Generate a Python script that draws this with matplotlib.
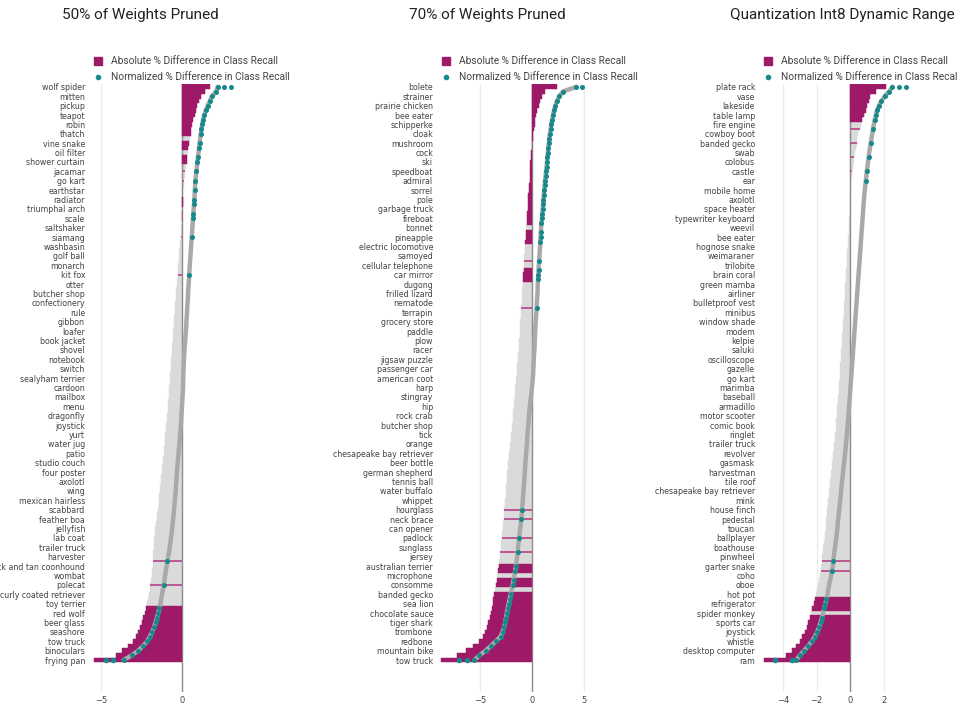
import numpy as np
import matplotlib.pyplot as plt
from matplotlib.lines import Line2D

# colours
MAGENTA = "#9e1a68"
PINK = "#bd5a93"
TEAL = "#15898b"
BAR_GREY = "#dadada"
DOT_GREY = "#a9a9a9"
TEXT = "#444444"

# ---------------- 50% of weights pruned ----------------
labels_50 = [
    "wolf spider", "mitten", "pickup", "teapot", "robin", "thatch", "vine snake",
    "oil filter", "shower curtain", "jacamar", "go kart", "earthstar", "radiator",
    "triumphal arch", "scale", "saltshaker", "siamang", "washbasin", "golf ball",
    "monarch", "kit fox", "otter", "butcher shop", "confectionery", "rule", "gibbon",
    "loafer", "book jacket", "shovel", "notebook", "switch", "sealyham terrier",
    "cardoon", "mailbox", "menu", "dragonfly", "joystick", "yurt", "water jug",
    "patio", "studio couch", "four poster", "axolotl", "wing", "mexican hairless",
    "scabbard", "feather boa", "jellyfish", "lab coat", "trailer truck", "harvester",
    "black and tan coonhound", "wombat", "polecat", "curly coated retriever",
    "toy terrier", "red wolf", "beer glass", "seashore", "tow truck", "binoculars",
    "frying pan",
]
abs_50 = [
    1.75, 1.4, 1.2, 1.05, 0.92, 0.85, 0.78, 0.7, 0.64, 0.58,
    0.53, 0.49, 0.44, 0.4, 0.36, 0.32, 0.28, 0.24, 0.2, 0.17,
    0.13, 0.11, 0.09, 0.07, 0.05, 0.04, 0.02, 0.0, -0.01, -0.03,
    -0.05, -0.07, -0.09, -0.11, -0.14, -0.16, -0.18, -0.2, -0.22, -0.24,
    -0.27, -0.29, -0.31, -0.34, -0.37, -0.39, -0.41, -0.44, -0.46, -0.48,
    -0.5, -0.52, -0.54, -0.56, -0.58, -0.6, -0.62, -0.64, -0.66, -0.68,
    -0.7, -0.72, -0.74, -0.76, -0.78, -0.8, -0.82, -0.84, -0.86, -0.89,
    -0.91, -0.94, -0.96, -0.99, -1.02, -1.05, -1.08, -1.1, -1.13, -1.16,
    -1.19, -1.22, -1.25, -1.28, -1.31, -1.34, -1.36, -1.39, -1.42, -1.45,
    -1.49, -1.52, -1.56, -1.6, -1.64, -1.68, -1.71, -1.73, -1.75, -1.77,
    -1.78, -1.79, -1.81, -1.84, -1.88, -1.92, -1.96, -2.0, -2.05, -2.1,
    -2.16, -2.22, -2.3, -2.38, -2.47, -2.58, -2.7, -2.85, -3.05, -3.35,
    -3.7, -4.1, -5.45,
]
norm_50 = [
    2.2, 2.1, 1.85, 1.72, 1.58, 1.47, 1.38, 1.3, 1.25, 1.2,
    1.15, 1.12, 1.08, 1.05, 1.02, 0.98, 0.95, 0.92, 0.89, 0.86,
    0.83, 0.81, 0.79, 0.78, 0.76, 0.74, 0.72, 0.7, 0.68, 0.66,
    0.64, 0.62, 0.6, 0.58, 0.56, 0.54, 0.52, 0.5, 0.48, 0.46,
    0.44, 0.43, 0.41, 0.39, 0.37, 0.36, 0.34, 0.32, 0.31, 0.29,
    0.27, 0.26, 0.24, 0.22, 0.2, 0.17, 0.15, 0.14, 0.12, 0.11,
    0.1, 0.08, 0.08, 0.07, 0.06, 0.05, 0.03, 0.02, 0.0, -0.02,
    -0.04, -0.05, -0.07, -0.09, -0.12, -0.14, -0.16, -0.19, -0.21, -0.24,
    -0.26, -0.29, -0.31, -0.33, -0.35, -0.37, -0.39, -0.42, -0.44, -0.47,
    -0.49, -0.52, -0.55, -0.58, -0.61, -0.64, -0.68, -0.72, -0.76, -0.8,
    -0.85, -0.9, -0.95, -1.0, -1.04, -1.08, -1.13, -1.18, -1.23, -1.28,
    -1.33, -1.4, -1.47, -1.55, -1.63, -1.72, -1.84, -1.98, -2.15, -2.4,
    -2.7, -3.1, -3.6,
]
sig_50 = [
    0, 1, 2, 3, 4, 5, 6, 7, 8, 9, 10, 12, 13, 15, 16, 18, 20, 22, 24, 25, 27, 28,
    32, 40, 101, 106, 111, 112, 113, 114, 115, 116, 117, 118, 119, 120, 121, 122,
]
top_tail_50 = [2.6, 3.0]
bottom_tail_50 = [-4.26, -4.67]

# ---------------- 70% of weights pruned ----------------
labels_70 = [
    "bolete", "strainer", "prairie chicken", "bee eater", "schipperke", "cloak",
    "mushroom", "cock", "ski", "speedboat", "admiral", "sorrel", "pole",
    "garbage truck", "fireboat", "bonnet", "pineapple", "electric locomotive",
    "samoyed", "cellular telephone", "car mirror", "dugong", "frilled lizard",
    "nematode", "terrapin", "grocery store", "paddle", "plow", "racer",
    "jigsaw puzzle", "passenger car", "american coot", "harp", "stingray", "hip",
    "rock crab", "butcher shop", "tick", "orange", "chesapeake bay retriever",
    "beer bottle", "german shepherd", "tennis ball", "water buffalo", "whippet",
    "hourglass", "neck brace", "can opener", "padlock", "sunglass", "jersey",
    "australian terrier", "microphone", "consomme", "banded gecko", "sea lion",
    "chocolate sauce", "tiger shark", "trombone", "redbone", "mountain bike",
    "tow truck",
]
abs_70 = [
    2.4, 1.3, 1.0, 0.8, 0.66, 0.52, 0.42, 0.33, 0.26, 0.18,
    0.11, 0.06, 0.02, -0.02, -0.06, -0.1, -0.15, -0.18, -0.2, -0.22,
    -0.24, -0.28, -0.31, -0.35, -0.38, -0.4, -0.43, -0.46, -0.49, -0.52,
    -0.55, -0.58, -0.62, -0.65, -0.68, -0.71, -0.74, -0.77, -0.79, -0.82,
    -0.84, -0.87, -0.9, -0.93, -0.96, -0.99, -1.01, -1.04, -1.07, -1.1,
    -1.13, -1.16, -1.19, -1.21, -1.24, -1.27, -1.31, -1.35, -1.38, -1.42,
    -1.46, -1.5, -1.53, -1.57, -1.61, -1.65, -1.69, -1.73, -1.77, -1.81,
    -1.85, -1.89, -1.93, -1.97, -2.01, -2.06, -2.11, -2.16, -2.21, -2.26,
    -2.31, -2.36, -2.4, -2.43, -2.46, -2.5, -2.53, -2.56, -2.6, -2.64,
    -2.68, -2.72, -2.76, -2.81, -2.86, -2.91, -2.96, -3.01, -3.05, -3.09,
    -3.14, -3.19, -3.24, -3.3, -3.36, -3.42, -3.48, -3.56, -3.65, -3.74,
    -3.83, -3.92, -4.02, -4.12, -4.24, -4.38, -4.55, -4.75, -5.1, -5.7,
    -6.4, -7.3, -8.8,
]
norm_70 = [
    4.3, 3.0, 2.65, 2.42, 2.27, 2.14, 2.04, 1.95, 1.87, 1.8,
    1.74, 1.68, 1.63, 1.58, 1.54, 1.5, 1.45, 1.41, 1.36, 1.31,
    1.26, 1.22, 1.18, 1.15, 1.11, 1.07, 1.03, 1.0, 0.96, 0.92,
    0.88, 0.85, 0.83, 0.8, 0.78, 0.75, 0.72, 0.69, 0.66, 0.63,
    0.61, 0.58, 0.56, 0.55, 0.53, 0.5, 0.47, 0.45, 0.42, 0.39,
    0.36, 0.33, 0.31, 0.29, 0.27, 0.26, 0.23, 0.2, 0.17, 0.15,
    0.13, 0.11, 0.08, 0.04, -0.01, -0.05, -0.1, -0.17, -0.21, -0.25,
    -0.29, -0.32, -0.36, -0.4, -0.44, -0.47, -0.5, -0.54, -0.57, -0.6,
    -0.64, -0.67, -0.7, -0.73, -0.76, -0.8, -0.83, -0.86, -0.9, -0.93,
    -0.97, -1.0, -1.04, -1.09, -1.15, -1.2, -1.25, -1.3, -1.35, -1.39,
    -1.44, -1.5, -1.56, -1.63, -1.71, -1.79, -1.87, -1.97, -2.07, -2.17,
    -2.27, -2.36, -2.44, -2.52, -2.6, -2.7, -2.85, -3.05, -3.5, -4.0,
    -4.5, -5.1, -5.6,
]
sig_70 = [
    0, 1, 2, 3, 4, 5, 6, 7, 8, 9, 10, 11, 12, 13, 14, 15, 16, 17, 18, 19, 20,
    21, 22, 23, 24, 25, 26, 27, 28, 29, 31, 32, 33, 37, 39, 40, 41, 47,
    90, 92, 96, 99, 102, 103, 105, 106, 108, 109, 110, 111, 112, 113, 114,
    115, 116, 117, 118, 119, 120, 121, 122,
]
top_tail_70 = [4.9]
bottom_tail_70 = [-6.3, -7.06]

# ---------------- Quantization int8 dynamic range ----------------
labels_q8 = [
    "plate rack", "vase", "lakeside", "table lamp", "fire engine", "cowboy boot",
    "banded gecko", "swab", "colobus", "castle", "ear", "mobile home", "axolotl",
    "space heater", "typewriter keyboard", "weevil", "bee eater", "hognose snake",
    "weimaraner", "trilobite", "brain coral", "green mamba", "airliner",
    "bulletproof vest", "minibus", "window shade", "modem", "kelpie", "saluki",
    "oscilloscope", "gazelle", "go kart", "marimba", "baseball", "armadillo",
    "motor scooter", "comic book", "ringlet", "trailer truck", "revolver",
    "gasmask", "harvestman", "tile roof", "chesapeake bay retriever", "mink",
    "house finch", "pedestal", "toucan", "ballplayer", "boathouse", "pinwheel",
    "garter snake", "coho", "oboe", "hot pot", "refrigerator", "spider monkey",
    "sports car", "joystick", "whistle", "desktop computer", "ram",
]
abs_q8 = [
    2.1, 1.5, 1.2, 1.1, 1.0, 0.92, 0.82, 0.72, 0.63, 0.55,
    0.48, 0.42, 0.37, 0.32, 0.27, 0.23, 0.19, 0.15, 0.12, 0.09,
    0.07, 0.05, 0.03, 0.01, 0.0, -0.01, -0.03, -0.04, -0.06, -0.07,
    -0.09, -0.1, -0.12, -0.13, -0.15, -0.17, -0.18, -0.2, -0.22, -0.23,
    -0.25, -0.27, -0.29, -0.3, -0.32, -0.34, -0.35, -0.37, -0.39, -0.4,
    -0.42, -0.44, -0.45, -0.47, -0.49, -0.51, -0.53, -0.55, -0.57, -0.59,
    -0.61, -0.62, -0.64, -0.66, -0.68, -0.7, -0.72, -0.74, -0.77, -0.79,
    -0.81, -0.84, -0.86, -0.88, -0.9, -0.93, -0.95, -0.98, -1.0, -1.03,
    -1.06, -1.09, -1.12, -1.15, -1.18, -1.21, -1.24, -1.27, -1.3, -1.33,
    -1.36, -1.39, -1.42, -1.45, -1.47, -1.5, -1.53, -1.57, -1.61, -1.64,
    -1.67, -1.7, -1.73, -1.77, -1.81, -1.86, -1.91, -1.97, -2.03, -2.1,
    -2.18, -2.26, -2.34, -2.42, -2.5, -2.6, -2.72, -2.85, -3.0, -3.2,
    -3.45, -3.8, -5.15,
]
norm_q8 = [
    2.5, 2.3, 2.05, 1.85, 1.7, 1.59, 1.52, 1.45, 1.4, 1.35,
    1.3, 1.26, 1.21, 1.17, 1.12, 1.09, 1.05, 1.02, 0.98, 0.95,
    0.92, 0.89, 0.86, 0.83, 0.81, 0.79, 0.77, 0.75, 0.73, 0.71,
    0.69, 0.67, 0.65, 0.63, 0.61, 0.59, 0.57, 0.55, 0.53, 0.51,
    0.49, 0.47, 0.45, 0.43, 0.41, 0.39, 0.37, 0.35, 0.33, 0.31,
    0.29, 0.27, 0.25, 0.23, 0.21, 0.19, 0.17, 0.15, 0.13, 0.11,
    0.09, 0.07, 0.05, 0.03, 0.01, -0.01, -0.03, -0.05, -0.07, -0.09,
    -0.11, -0.13, -0.16, -0.18, -0.2, -0.23, -0.26, -0.28, -0.31, -0.34,
    -0.37, -0.4, -0.43, -0.46, -0.49, -0.52, -0.55, -0.57, -0.6, -0.63,
    -0.66, -0.69, -0.72, -0.75, -0.77, -0.8, -0.83, -0.87, -0.91, -0.95,
    -0.98, -1.01, -1.04, -1.09, -1.14, -1.2, -1.26, -1.31, -1.36, -1.42,
    -1.48, -1.55, -1.62, -1.69, -1.77, -1.85, -1.97, -2.1, -2.28, -2.5,
    -2.75, -3.0, -3.2,
]
sig_q8 = [
    0, 1, 2, 3, 4, 5, 6, 7, 9, 12, 15, 18, 20,
    101, 103, 109, 110, 111, 113, 114, 115, 116, 117, 118, 119, 120, 121, 122,
]
top_tail_q8 = [2.9, 3.3]
bottom_tail_q8 = [-3.48, -4.45]

FIG_W, FIG_H = 958, 708


def fx(px):
    return px / FIG_W


def fy(py):
    return 1 - py / FIG_H


def draw_panel(ax, labels, abs_vals, norm_vals, sig_rows, top_tail, bottom_tail,
               xlim, xticks):
    abs_vals = np.asarray(abs_vals)
    norm_vals = np.asarray(norm_vals)
    rows = np.arange(len(abs_vals))
    sig = np.isin(rows, sig_rows)

    # a significant row with no significant neighbour is drawn as a thin stripe
    prev_sig = np.r_[False, sig[:-1]]
    next_sig = np.r_[sig[1:], False]
    lone = sig & ~prev_sig & ~next_sig
    run = sig & ~lone

    # bars: absolute difference, grey unless the class is significantly hit
    ax.barh(rows, abs_vals, height=1.0, color=BAR_GREY,
            edgecolor=BAR_GREY, linewidth=0.3, zorder=1)
    ax.axvline(0, color="#8c8c8c", lw=1, zorder=2)
    ax.barh(rows[run], abs_vals[run], height=1.0, color=MAGENTA,
            edgecolor=MAGENTA, linewidth=0.3, zorder=3)
    ax.barh(rows[lone], abs_vals[lone], height=0.4, color=PINK,
            linewidth=0, zorder=3)

    # dots: normalized difference
    ax.plot(norm_vals, rows, color=DOT_GREY, lw=3.2, solid_capstyle="round",
            zorder=4)
    ax.scatter(norm_vals[sig], rows[sig], s=13, color=TEAL, lw=0, zorder=5)
    ax.scatter(top_tail, [rows[0]] * len(top_tail), s=13, color=TEAL, lw=0, zorder=5)
    ax.scatter(bottom_tail, [rows[-1]] * len(bottom_tail), s=16, color=TEAL, lw=0,
               zorder=5)

    for t in xticks:
        if t != 0:
            ax.axvline(t, color="#ececec", lw=1, zorder=0)

    ax.set_xlim(*xlim)
    ax.set_ylim(128.8, -0.6)
    ax.set_xticks(xticks)
    ax.set_xticklabels([f"\u2212{abs(t)}" if t < 0 else str(t) for t in xticks])
    ax.set_yticks(rows[::2])
    ax.set_yticklabels(labels)
    ax.tick_params(axis="y", length=0, pad=5, labelsize=5.7, labelcolor=TEXT)
    ax.tick_params(axis="x", length=0, pad=3, labelsize=6, labelcolor=TEXT)
    for side in ax.spines.values():
        side.set_visible(False)


fig = plt.figure(figsize=(FIG_W / 100, FIG_H / 100), dpi=100)

panels = [
    ("50% of Weights Pruned", 140, 92, 236, labels_50, abs_50, norm_50, sig_50,
     top_tail_50, bottom_tail_50, (-5.556, 3.333), [-5, 0]),
    ("70% of Weights Pruned", 487, 440, 586, labels_70, abs_70, norm_70, sig_70,
     top_tail_70, bottom_tail_70, (-8.93, 5.24), [-5, 0, 5]),
    ("Quantization Int8 Dynamic Range", 842, 762, 908, labels_q8, abs_q8, norm_q8,
     sig_q8, top_tail_q8, bottom_tail_q8, (-5.25, 3.43), [-4, -2, 0, 2]),
]

for (title, title_x, left, right, labels, a, n, s, tt, bt, xlim, xticks) in panels:
    ax = fig.add_axes([fx(left), fy(692), fx(right) - fx(left), fy(84) - fy(692)])
    draw_panel(ax, labels, a, n, s, tt, bt, xlim, xticks)

    fig.text(fx(title_x), fy(15), title, ha="center", va="center",
             fontsize=11, family="Roboto", color="#222222")

    # legend
    sq_x = left + 6
    fig.add_artist(Line2D([fx(sq_x)], [fy(61)], marker="s", markersize=6,
                          color=MAGENTA, linestyle="none",
                          transform=fig.transFigure))
    fig.add_artist(Line2D([fx(sq_x)], [fy(77)], marker="o", markersize=3,
                          color=TEAL, linestyle="none",
                          transform=fig.transFigure))
    fig.text(fx(sq_x + 13), fy(61), "Absolute % Difference in Class Recall",
             ha="left", va="center", fontsize=7.3, family="Roboto", color=TEXT)
    fig.text(fx(sq_x + 13), fy(77), "Normalized % Difference in Class Recall",
             ha="left", va="center", fontsize=7.3, family="Roboto", color=TEXT)

fig.savefig("out.png", dpi=100, facecolor="white")
